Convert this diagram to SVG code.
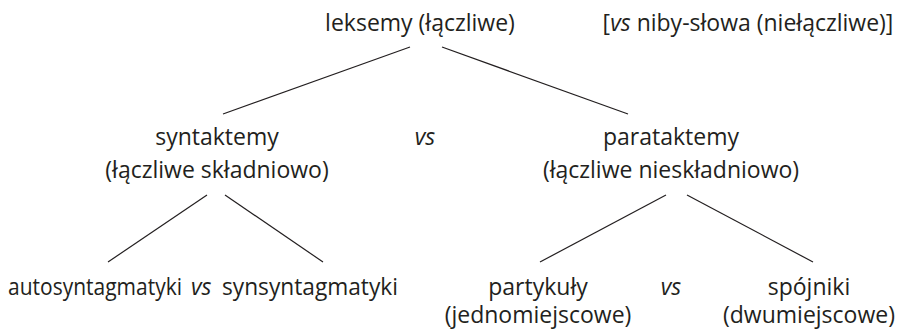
<svg xmlns="http://www.w3.org/2000/svg" width="902" height="333" viewBox="0 0 902 333">
  <style>
    text { font-family: "Open Sans", "Liberation Sans", sans-serif; font-size: 23px; fill: #231f20; text-anchor: middle; }
    .it { font-style: italic; }
    .start { text-anchor: start; }
    .edge { stroke: #231f20; stroke-width: 1.2; fill: none; }
  </style>
  <rect width="902" height="333" fill="#ffffff"/>

  <!-- tree edges -->
  <g id="connectors">
    <line class="edge" x1="410" y1="47" x2="223" y2="114"/>
    <line class="edge" x1="442" y1="47" x2="628" y2="114"/>
    <line class="edge" x1="207" y1="195" x2="108" y2="262"/>
    <line class="edge" x1="225" y1="195" x2="323" y2="262"/>
    <line class="edge" x1="666" y1="195" x2="540" y2="262"/>
    <line class="edge" x1="687" y1="195" x2="813" y2="262"/>
  </g>

  <g id="leksemy">
    <text x="420" y="31">leksemy (łączliwe)</text>
  </g>
  <g id="niby-slowa">
    <text x="748" y="31">[<tspan class="it">vs</tspan> niby-słowa (niełączliwe)]</text>
  </g>

  <g id="syntaktemy">
    <text x="217" y="145">syntaktemy</text>
    <text x="217" y="178">(łączliwe składniowo)</text>
  </g>
  <g id="vs-middle">
    <text class="it" x="425" y="145">vs</text>
  </g>
  <g id="parataktemy">
    <text x="671" y="145">parataktemy</text>
    <text x="671" y="178">(łączliwe nieskładniowo)</text>
  </g>

  <g id="syntagmatyki">
    <text class="start" x="8" y="295" textLength="174" lengthAdjust="spacingAndGlyphs">autosyntagmatyki</text>
    <text class="it start" x="191" y="295">vs</text>
    <text class="start" x="222" y="295" textLength="176" lengthAdjust="spacingAndGlyphs">synsyntagmatyki</text>
  </g>
  <g id="partykuly">
    <text x="538" y="295">partykuły</text>
    <text x="538" y="323">(jednomiejscowe)</text>
  </g>
  <g id="vs-bottom">
    <text class="it" x="671" y="295">vs</text>
  </g>
  <g id="spojniki">
    <text x="809" y="295">spójniki</text>
    <text x="809" y="323">(dwumiejscowe)</text>
  </g>
</svg>
